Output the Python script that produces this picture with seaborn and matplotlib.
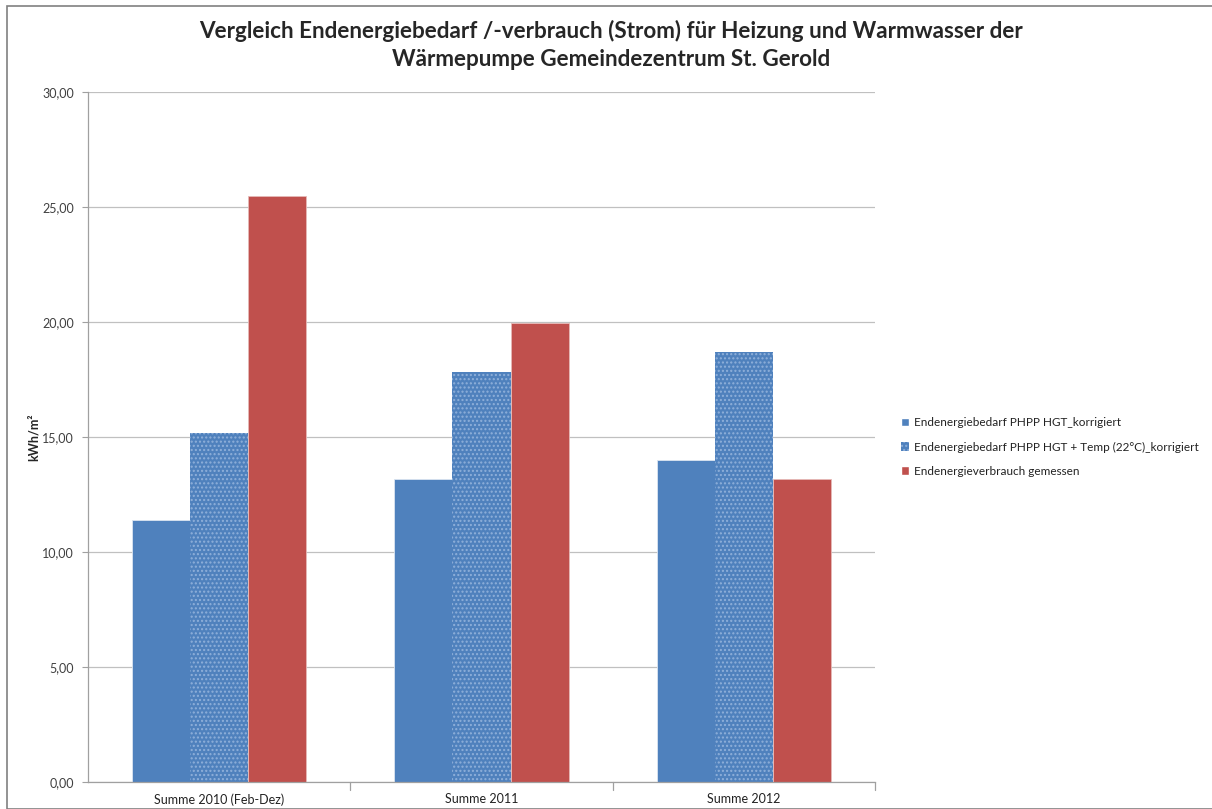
import matplotlib.pyplot as plt
import matplotlib.patches as mpatches
import seaborn as sns
import pandas as pd

# Data
categories = ['Summe 2010 (Feb-Dez)', 'Summe 2011', 'Summe 2012']
series = ['Endenergiebedarf PHPP HGT_korrigiert',
          'Endenergiebedarf PHPP HGT + Temp (22°C)_korrigiert',
          'Endenergieverbrauch gemessen']
bedarf_hgt = [11.39, 13.17, 14.00]
bedarf_hgt_temp = [15.17, 17.83, 18.70]
verbrauch = [25.48, 19.96, 13.17]
y_ticks = [0, 5, 10, 15, 20, 25, 30]

df = pd.DataFrame({
    'Kategorie': categories * 3,
    'Reihe': [series[0]] * 3 + [series[1]] * 3 + [series[2]] * 3,
    'kWh/m²': bedarf_hgt + bedarf_hgt_temp + verbrauch,
})

colors = {series[0]: '#4f81bd', series[1]: '#4f81bd', series[2]: '#c0504d'}

sns.set_style('white')
plt.rcParams['font.family'] = ['Lato', 'DejaVu Sans']

fig = plt.figure(figsize=(12.12, 8.09), dpi=100)
ax = fig.add_axes([88 / 1212, 1 - 782 / 809, (875 - 88) / 1212, (782 - 92) / 809])

sns.barplot(data=df, x='Kategorie', y='kWh/m²', hue='Reihe', palette=colors,
            width=0.664, saturation=1, ax=ax, legend=False, edgecolor='#dbe5f1',
            linewidth=0.6)

# dotted texture for the second series
for bar in ax.containers[1]:
    bar.set_hatch('....')
    bar.set_edgecolor('#8fb0da')
    bar.set_linewidth(0)
for bar in ax.containers[2]:
    bar.set_edgecolor('#e6b9b8')

ax.set_ylim(0, 30)
ax.set_xlim(-0.5, 2.5)
ax.set_yticks(y_ticks)
ax.set_yticklabels([f'{v:.2f}'.replace('.', ',') for v in y_ticks], fontsize=9, color='#404040')
ax.tick_params(axis='x', labelsize=9, labelcolor='#222222', length=0, pad=8)
ax.tick_params(axis='y', length=4, color='#a0a0a0', left=True, pad=6)
ax.yaxis.grid(True, color='#c0c0c0', linewidth=0.9)
ax.set_axisbelow(True)
for s in ['top', 'right']:
    ax.spines[s].set_visible(False)
for s in ['left', 'bottom']:
    ax.spines[s].set_color('#a0a0a0')
    ax.spines[s].set_linewidth(0.9)

# category separator ticks on the x axis
for xb in [0.5, 1.5, 2.5]:
    ax.plot([xb, xb], [0, -0.35], color='#a0a0a0', lw=0.9, clip_on=False)

ax.set_xlabel('')
ax.set_ylabel('kWh/m²', fontsize=9, fontweight='bold', labelpad=2)

fig.suptitle('Vergleich Endenergiebedarf /-verbrauch (Strom) für Heizung und Warmwasser der\n'
             'Wärmepumpe Gemeindezentrum St. Gerold',
             x=611 / 1212, y=1 - 20 / 809, fontsize=16.2, fontweight='bold',
             linespacing=1.4, va='top')

handles = [mpatches.Patch(facecolor=colors[series[0]]),
           mpatches.Patch(facecolor=colors[series[1]], hatch='....', edgecolor='#8fb0da', linewidth=0),
           mpatches.Patch(facecolor=colors[series[2]])]
fig.legend(handles, series, loc='center left', bbox_to_anchor=(890 / 1212, 1 - 447 / 809),
           frameon=False, fontsize=8.5, handlelength=0.7, handleheight=0.7,
           handletextpad=0.4, labelspacing=1.1, labelcolor='#222222')

# outer chart frame
fig.patches.append(mpatches.Rectangle((7 / 1212, 0), 1.1, 1 - 6 / 809, transform=fig.transFigure,
                                      fill=False, edgecolor='#808080', linewidth=1.2))

fig.savefig('out.png', dpi=100)
